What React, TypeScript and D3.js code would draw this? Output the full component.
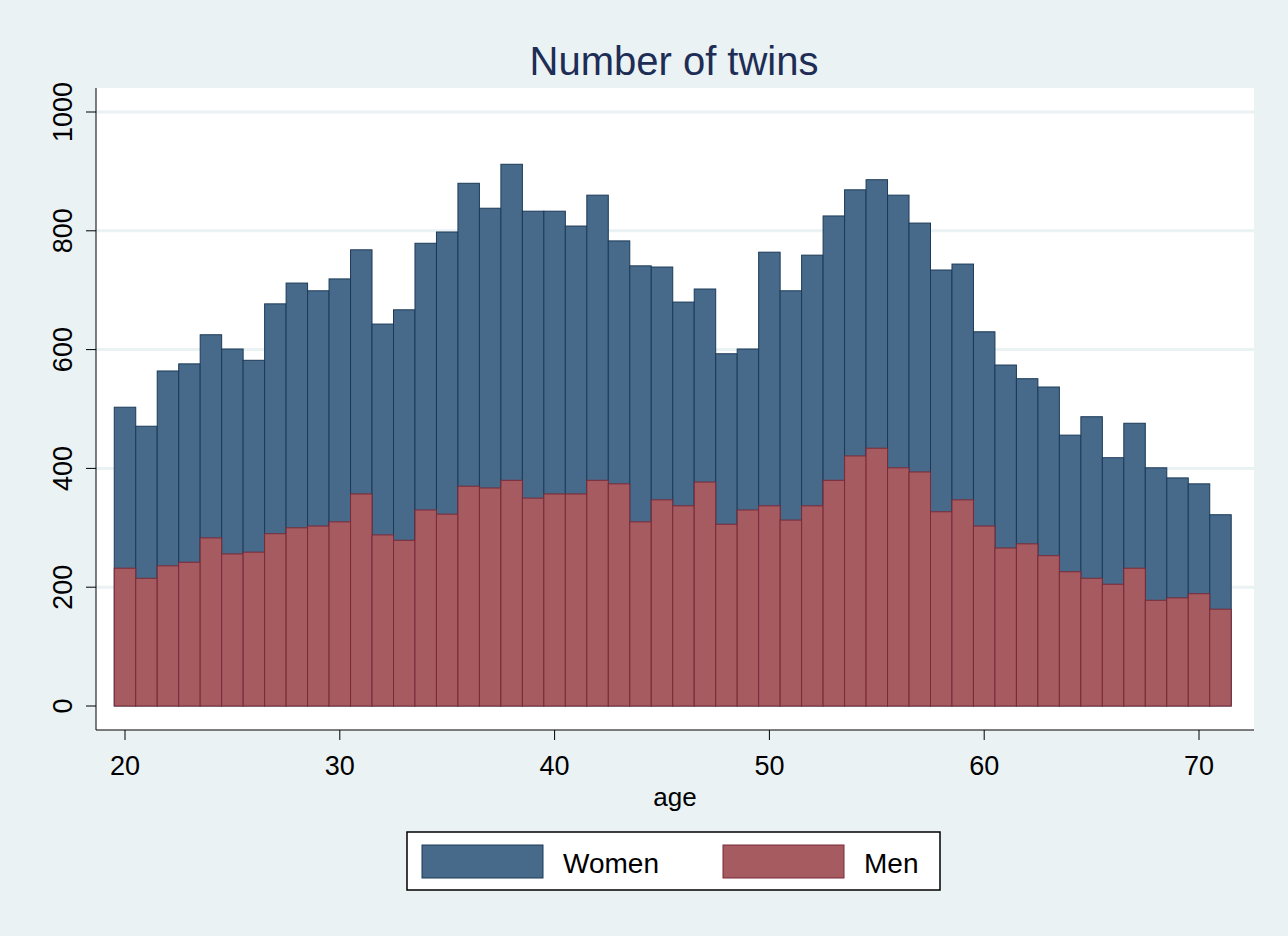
import React, { useEffect, useRef } from 'react';
import * as d3 from 'd3';

const ages = d3.range(20, 72);
const totals = [503, 471, 564, 576, 625, 601, 582, 677, 712, 699, 719, 768, 643, 667, 779, 798, 880, 838, 912, 833, 833, 808, 860, 783, 741, 739, 680, 702, 593, 601, 764, 699, 759, 825, 869, 886, 860, 813, 734, 744, 630, 574, 551, 537, 456, 487, 418, 476, 401, 384, 374, 322];
const men = [232, 215, 236, 242, 283, 256, 259, 290, 300, 303, 310, 357, 288, 279, 330, 323, 370, 367, 380, 350, 357, 357, 380, 374, 310, 347, 337, 377, 306, 330, 337, 313, 337, 380, 421, 434, 401, 394, 327, 347, 303, 266, 273, 253, 226, 215, 205, 232, 178, 182, 189, 163];
const yTicks = [0, 200, 400, 600, 800, 1000];
const xTicks = [20, 30, 40, 50, 60, 70];

const W = 1288, H = 936;

const App: React.FC = () => {
  const ref = useRef<SVGSVGElement>(null);
  useEffect(() => {
    const svg = d3.select(ref.current);
    svg.selectAll('*').remove();
    const font = 'Arial, "Liberation Sans", sans-serif';
    svg.append('rect').attr('width', W).attr('height', H).attr('fill', '#EAF2F3');
    const left = 96, right = 1254, top = 88, bottom = 730;
    svg.append('rect').attr('x', left).attr('y', top).attr('width', right - left).attr('height', bottom - top).attr('fill', '#fff');

    const x = d3.scaleLinear().domain([20, 70]).range([125, 1199]);
    const y = d3.scaleLinear().domain([0, 1000]).range([706, 112]);

    svg.append('g').selectAll('line').data(yTicks.slice(1)).enter().append('line')
      .attr('x1', left).attr('x2', right).attr('y1', d => y(d)).attr('y2', d => y(d))
      .attr('stroke', '#EAF2F3').attr('stroke-width', 3);

    const bars = (vals: number[], fill: string, stroke: string) =>
      svg.append('g').selectAll('rect').data(vals).enter().append('rect')
        .attr('x', (_, i) => x(ages[i] - 0.5)).attr('width', x(1) - x(0))
        .attr('y', d => y(d)).attr('height', d => y(0) - y(d))
        .attr('fill', fill).attr('stroke', stroke).attr('stroke-width', 1);
    bars(totals, '#476A8A', '#1C3A58');
    bars(men, '#A65B60', '#7A2A38');

    // axes
    svg.append('line').attr('x1', left).attr('x2', left).attr('y1', top).attr('y2', bottom).attr('stroke', '#000');
    svg.append('line').attr('x1', left).attr('x2', right).attr('y1', bottom).attr('y2', bottom).attr('stroke', '#000');
    yTicks.forEach(t => {
      svg.append('line').attr('x1', left - 10).attr('x2', left).attr('y1', y(t)).attr('y2', y(t)).attr('stroke', '#000');
      svg.append('text').attr('transform', `translate(72,${y(t)}) rotate(-90)`).attr('text-anchor', 'middle')
        .attr('font-family', font).attr('font-size', 27).text(t);
    });
    xTicks.forEach(t => {
      svg.append('line').attr('x1', x(t)).attr('x2', x(t)).attr('y1', bottom).attr('y2', bottom + 10).attr('stroke', '#000');
      svg.append('text').attr('x', x(t)).attr('y', 775).attr('text-anchor', 'middle')
        .attr('font-family', font).attr('font-size', 27).text(t);
    });
    svg.append('text').attr('x', 675).attr('y', 806).attr('text-anchor', 'middle')
      .attr('font-family', font).attr('font-size', 26).text('age');
    svg.append('text').attr('x', 674).attr('y', 75).attr('text-anchor', 'middle')
      .attr('font-family', font).attr('font-size', 40).attr('fill', '#1E2D55').text('Number of twins');

    // legend
    svg.append('rect').attr('x', 407).attr('y', 832).attr('width', 533).attr('height', 58)
      .attr('fill', '#fff').attr('stroke', '#000').attr('stroke-width', 1.5);
    [['Women', '#476A8A', '#1C3A58', 422], ['Men', '#A65B60', '#7A2A38', 723]].forEach(([lab, f, s, lx]) => {
      svg.append('rect').attr('x', lx as number).attr('y', 845).attr('width', 121).attr('height', 33)
        .attr('fill', f as string).attr('stroke', s as string);
      svg.append('text').attr('x', (lx as number) + 141).attr('y', 873).attr('font-family', font)
        .attr('font-size', 28).text(lab as string);
    });
  }, []);
  return <svg ref={ref} width={W} height={H} style={{ position: 'absolute', left: 0, top: 0 }} />;
};

export default App;
